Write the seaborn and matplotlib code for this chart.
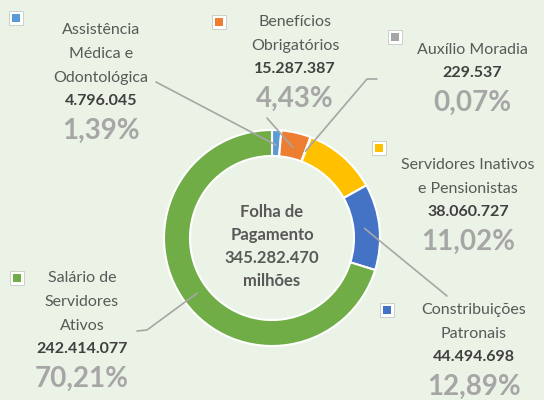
import numpy as np
import matplotlib
matplotlib.use("Agg")
import matplotlib.pyplot as plt
import seaborn as sns

# ========== Data ==========
categorias = [
    "Assistência\nMédica e\nOdontológica",
    "Benefícios\nObrigatórios",
    "Auxílio Moradia",
    "Servidores Inativos\ne Pensionistas",
    "Constribuições\nPatronais",
    "Salário de\nServidores\nAtivos",
]
valores = [4796045, 15287387, 229537, 38060727, 44494698, 242414077]
cores = ["#5B9BD5", "#ED7D31", "#A5A5A5", "#FFC000", "#4472C4", "#70AD47"]
titulo_centro = ["Folha de", "Pagamento", "345.282.470", "milhões"]

# ========== Layout (pixels, top-left origin) ==========
W, H = 544, 400
centro = (272, 238)
r_ext, largura = 108, 26
# label block: text centre x, first line y, legend square (x, y)
rotulos = [
    (101, 30, (16, 18)),
    (295, 22, (219, 22)),
    (472, 50, (395, 37)),
    (468, 165, (379, 148)),
    (474, 310, (387, 310)),
    (82, 278, (17, 278)),
]
# leader line end points (None = no leader), optional tail end
guias = [
    ((156, 82), None),
    ((267, 118), None),
    ((367, 79), (377, 79)),
    (None, None),
    ((447, 296), None),
    ((147, 330), (137, 331)),
]

bg = "#EAF3E6"
sns.set_style("white")
plt.rcParams["font.family"] = ["Lato", "DejaVu Sans"]

fig = plt.figure(figsize=(W / 100, H / 100), dpi=100, facecolor=bg)
ax = fig.add_axes([0, 0, 1, 1])
ax.set_facecolor(bg)

def py(y):
    return H - y

cx, cy = centro[0], py(centro[1])
ax.pie(valores, colors=cores, startangle=90, counterclock=False,
       radius=r_ext, center=(cx, cy), frame=True,
       wedgeprops=dict(width=largura, edgecolor="white", linewidth=1.5))
ax.set_xlim(0, W)
ax.set_ylim(0, H)
ax.set_aspect("equal")
ax.axis("off")

total = sum(valores)
fracs = np.array(valores) / total
acum = np.cumsum(fracs) - fracs / 2
angulos = np.deg2rad(90 - acum * 360)

for i, (nome, v) in enumerate(zip(categorias, valores)):
    x, y0, (sx, sy) = rotulos[i]
    linhas = nome.split("\n")
    y = y0
    for ln in linhas:
        ax.text(x, py(y), ln, ha="center", va="center", fontsize=11.5,
                color="#595959")
        y += 24
    y -= 1
    ax.text(x, py(y), f"{v:,}".replace(",", "."), ha="center", va="center",
            fontsize=11.5, fontweight="bold", color="#404040")
    y += 30
    pct = f"{v / total * 100:.2f}%".replace(".", ",")
    ax.text(x, py(y), pct, ha="center", va="center", fontsize=20,
            fontweight="bold", color="#A6A6A6")
    # legend square
    ax.plot(sx, py(sy), marker="s", markersize=10, markerfacecolor="white",
            markeredgecolor="#C8C8C8", markeredgewidth=0.6)
    ax.plot(sx, py(sy), marker="s", markersize=6, markerfacecolor=cores[i],
            markeredgewidth=0)
    # leader line
    fim, cauda = guias[i]
    if fim is not None:
        r_mid = 93
        x1 = cx + r_mid * np.cos(angulos[i])
        y1 = cy + r_mid * np.sin(angulos[i])
        xs = [x1, fim[0]]
        ys = [y1, py(fim[1])]
        if cauda is not None:
            xs.append(cauda[0])
            ys.append(py(cauda[1]))
        ax.plot(xs, ys, color="#A6A6A6", linewidth=1.2)

for k, t in enumerate(titulo_centro):
    ax.text(cx, py(212 + 23 * k), t, ha="center", va="center",
            fontsize=12, fontweight="bold", color="#595959")

fig.savefig("out.png", dpi=100, facecolor=bg)
